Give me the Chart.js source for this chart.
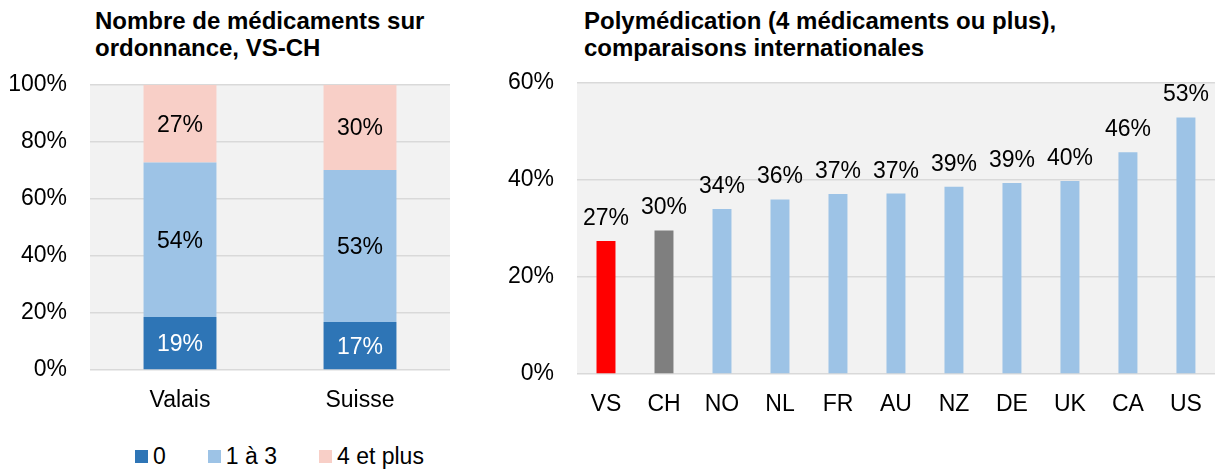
<!DOCTYPE html>
<html lang="fr">
<head>
<meta charset="utf-8">
<title>Médicaments sur ordonnance</title>
<script src="https://cdn.jsdelivr.net/npm/chart.js@4.4.1/dist/chart.umd.min.js"></script>
<style>
  body { margin: 0; background: #fff; font-family: "Liberation Sans", Arial, sans-serif; }
  #page { position: relative; width: 1219px; height: 471px; overflow: hidden; }
  .title { position: absolute; top: 7px; font-weight: bold; font-size: 24px; line-height: 27px; color: #000; }
  #leftWrap { position: absolute; left: 0; top: 0; }
  #rightWrap { position: absolute; left: 460px; top: 0; }
  #legend { position: absolute; left: 135px; top: 443px; display: flex; gap: 42px; font-size: 23px; line-height: 27px; }
  #legend span.item { display: flex; align-items: center; }
  #legend i { display: inline-block; width: 13px; height: 13px; margin-right: 5px; }
</style>
</head>
<body>
<div id="page">
  <div class="title" style="left:95px">Nombre de médicaments sur<br>ordonnance, VS-CH</div>
  <div class="title" style="left:584px">Polymédication (4 médicaments ou plus),<br>comparaisons internationales</div>
  <div id="leftWrap"><canvas id="stackChart" width="455" height="420"></canvas></div>
  <div id="rightWrap"><canvas id="polyChart" width="759" height="430"></canvas></div>
  <div id="legend"></div>
</div>
<script>
// Left chart: share of people by number of prescribed drugs
const regions = ["Valais", "Suisse"];
const seriesNames = ["0", "1 à 3", "4 et plus"];
const noDrug = [18.6, 16.8];
const oneToThree = [54.2, 53.4];
const fourPlus = [27.2, 29.8];
const stackTicks = [0, 20, 40, 60, 80, 100];

// Right chart: polypharmacy, international comparison
const countries = ["VS", "CH", "NO", "NL", "FR", "AU", "NZ", "DE", "UK", "CA", "US"];
const polyValues = [27.4, 29.6, 34.0, 36.0, 37.1, 37.2, 38.6, 39.4, 39.8, 45.7, 52.9];
const polyTicks = [0, 20, 40, 60];

const DARK_BLUE = "#2e75b6";
const LIGHT_BLUE = "#9dc3e6";
const PINK = "#f8cfc7";
const polyColors = countries.map((c) => (c === "VS" ? "#ff0000" : c === "CH" ? "#7f7f7f" : LIGHT_BLUE));
const seriesColors = [DARK_BLUE, LIGHT_BLUE, PINK];

const FONT = "'Liberation Sans', Arial, sans-serif";
Chart.defaults.font.family = FONT;
Chart.defaults.font.size = 23;
Chart.defaults.color = "#000";

const plotBackground = {
  id: "plotBackground",
  beforeDraw(chart) {
    const { ctx, chartArea } = chart;
    ctx.save();
    ctx.fillStyle = "#f2f2f2";
    ctx.fillRect(chartArea.left, chartArea.top, chartArea.right - chartArea.left, chartArea.bottom - chartArea.top);
    ctx.restore();
  },
};

// Draws the value labels (rounded %) on or above each bar
const valueLabels = {
  id: "valueLabels",
  afterDatasetsDraw(chart, args, opts) {
    const { ctx } = chart;
    ctx.save();
    ctx.font = "23px " + FONT;
    ctx.textAlign = "center";
    ctx.textBaseline = "alphabetic";
    chart.data.datasets.forEach((ds, i) => {
      chart.getDatasetMeta(i).data.forEach((bar, j) => {
        const text = Math.round(ds.data[j]) + "%";
        if (opts.inside) {
          ctx.fillStyle = i === 0 ? "#fff" : "#000";
          ctx.fillText(text, bar.x, (bar.y + bar.base) / 2 + 8);
        } else {
          ctx.fillStyle = "#000";
          ctx.fillText(text, bar.x, bar.y - 16);
        }
      });
    });
    ctx.restore();
  },
};

function yAxis(ticks, width) {
  return {
    min: ticks[0],
    max: ticks[ticks.length - 1],
    afterFit(scale) { scale.width = width; },
    afterBuildTicks(scale) { scale.ticks = ticks.map((v) => ({ value: v })); },
    border: { display: false },
    grid: { color: "#d9d9d9", lineWidth: 1.5, drawTicks: false },
    ticks: { padding: 23, callback: (v) => v + "%" },
  };
}

function xAxis(height, stacked) {
  return {
    stacked,
    afterFit(scale) { scale.height = height; },
    border: { display: false },
    grid: { display: false, drawTicks: false },
    ticks: { padding: 17 },
  };
}

new Chart(document.getElementById("stackChart"), {
  type: "bar",
  data: {
    labels: regions,
    datasets: [noDrug, oneToThree, fourPlus].map((values, i) => ({
      label: seriesNames[i],
      data: values,
      backgroundColor: seriesColors[i],
      barPercentage: 0.405,
      categoryPercentage: 1,
    })),
  },
  options: {
    responsive: false,
    animation: false,
    layout: { padding: { top: 85, right: 5, left: 0, bottom: 0 } },
    plugins: { legend: { display: false }, tooltip: { enabled: false }, valueLabels: { inside: true } },
    scales: {
      x: xAxis(50, true),
      y: { ...yAxis(stackTicks, 90), stacked: true },
    },
  },
  plugins: [plotBackground, valueLabels],
});

new Chart(document.getElementById("polyChart"), {
  type: "bar",
  data: {
    labels: countries,
    datasets: [{
      data: polyValues,
      backgroundColor: polyColors,
      barPercentage: 0.327,
      categoryPercentage: 1,
    }],
  },
  options: {
    responsive: false,
    animation: false,
    layout: { padding: { top: 83, right: 2, left: 0, bottom: 0 } },
    plugins: { legend: { display: false }, tooltip: { enabled: false }, valueLabels: { inside: false } },
    scales: {
      x: xAxis(56, false),
      y: yAxis(polyTicks, 117),
    },
  },
  plugins: [plotBackground, valueLabels],
});

// Legend for the stacked chart
const legend = document.getElementById("legend");
seriesNames.forEach((name, i) => {
  const item = document.createElement("span");
  item.className = "item";
  item.innerHTML = `<i style="background:${seriesColors[i]}"></i>${name}`;
  legend.appendChild(item);
});
</script>
</body>
</html>
